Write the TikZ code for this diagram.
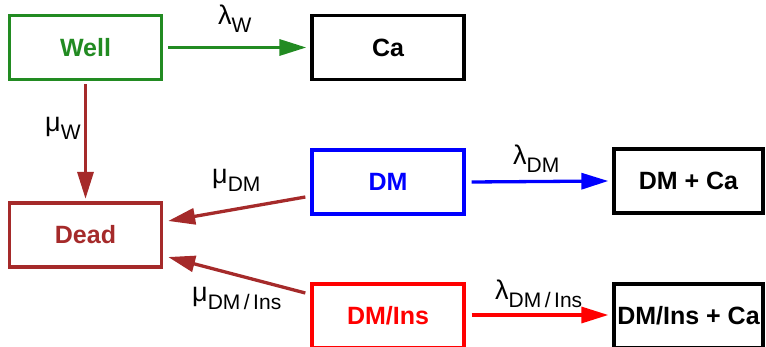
\documentclass[tikz,border=0pt]{standalone}
\usepackage{fontspec}
\setmainfont{Liberation Sans}
\usetikzlibrary{arrows.meta}
\definecolor{wgreen}{RGB}{34,139,34}
\definecolor{dbrown}{RGB}{165,42,42}
\newcommand{\ratelab}[2]{{\fontsize{27}{30}\selectfont #1}\raisebox{-8pt}{\fontsize{21}{24}\selectfont #2}}
\begin{document}
\begin{tikzpicture}[x=1pt,y=-1pt,
  box/.style={draw,line width=3.3pt,minimum width=152pt,minimum height=64pt,inner sep=0pt,
    font=\fontsize{25}{28}\selectfont\bfseries},
  flow/.style={line width=3.3pt,-{Triangle[length=27pt,width=16pt]}},
  rate/.style={anchor=base west,inner sep=0pt}]
\useasboundingbox (0,0) rectangle (766,347);
\node[box,draw=wgreen,text=wgreen] (well) at (85.5,47.5) {Well};
\node[box] (ca) at (388,47.5) {Ca};
\node[box,draw=dbrown,text=dbrown] (dead) at (85.5,235) {Dead};
\node[box,draw=blue,text=blue] (dm) at (388,182) {DM};
\node[box,minimum width=149pt] (dmca) at (688.5,181) {DM + Ca};
\node[box,draw=red,text=red] (dmins) at (388,316) {DM/Ins};
\node[box,minimum width=149pt] (dminsca) at (688.5,316) {DM/Ins + Ca};

\draw[flow,wgreen] ([shift={(5,0)}]well.east) -- ([shift={(-4,0)}]ca.west);
\draw[flow,dbrown] ([shift={(0,3)}]well.south) -- ([shift={(0,-2.5)}]dead.north);
\draw[flow,dbrown] ([shift={(-5,15)}]dm.west) -- ([shift={(5,-14)}]dead.east);
\draw[flow,dbrown] ([shift={(-5,-23)}]dmins.west) -- ([shift={(5,22)}]dead.east);
\draw[flow,blue] ([shift={(6,0)}]dm.east) -- ([shift={(-4,0)}]dmca.west);
\draw[flow,red] ([shift={(6,-1)}]dmins.east) -- ([shift={(-4,-1)}]dminsca.west);

\node[rate] (lw) at (218,25) {\ratelab{λ}{W}};
\node[rate] (mw) at (45,132) {\ratelab{μ}{W}};
\node[rate] (mdm) at (212,184) {\ratelab{μ}{DM}};
\node[rate] (mdmi) at (192,302) {\ratelab{μ}{DM\,/\,Ins}};
\node[rate] (ldm) at (513,165) {\ratelab{λ}{DM}};
\node[rate] (ldmi) at (495,300) {\ratelab{λ}{DM\,/\,Ins}};
\end{tikzpicture}
\end{document}
